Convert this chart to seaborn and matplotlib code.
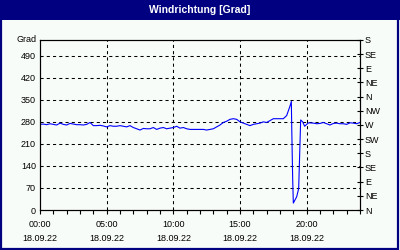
import matplotlib
matplotlib.use("Agg")
import matplotlib.pyplot as plt
from matplotlib.patches import Rectangle
import seaborn as sns
import pandas as pd

hours = [0.0, 0.25, 0.5, 0.75, 1.0, 1.25, 1.5, 1.75, 2.0, 2.25, 2.5, 2.75, 3.0, 3.25, 3.5, 3.75,
         4.0, 4.25, 4.5, 4.75, 5.0, 5.25, 5.5, 5.75, 6.0, 6.25, 6.5, 6.75, 7.0, 7.25, 7.5, 7.75,
         8.0, 8.25, 8.5, 8.75, 9.0, 9.25, 9.5, 9.75, 10.0, 10.25, 10.5, 10.75, 11.0, 11.25, 11.5,
         11.75, 12.0, 12.25, 12.5, 12.75, 13.0, 13.25, 13.5, 13.75, 14.0, 14.25, 14.5, 14.75, 15.0,
         15.25, 15.5, 15.75, 16.0, 16.25, 16.5, 16.75, 17.0, 17.25, 17.5, 17.75, 18.0, 18.25, 18.5,
         18.75, 18.85, 18.88, 18.95, 19.0, 19.25, 19.4, 19.55, 19.7, 19.85, 20.0, 20.15, 20.5,
         20.75, 21.0, 21.25, 21.5, 21.75, 22.0, 22.25, 22.5, 22.75, 23.0, 23.25, 23.5, 23.75, 24.0]
direction = [272, 273, 271, 274, 272, 270, 276, 272, 270, 275, 273, 271, 271, 270, 272, 278,
             268, 268, 269, 267, 264, 268, 266, 266, 268, 266, 264, 268, 262, 258, 254, 259,
             258, 258, 262, 256, 260, 262, 258, 260, 262, 266, 260, 262, 258, 256, 256,
             256, 256, 256, 254, 256, 258, 264, 270, 278, 282, 288, 290, 288, 280,
             276, 272, 268, 272, 274, 276, 280, 278, 284, 290, 290, 290, 290, 300,
             330, 345, 262, 100, 22, 42, 68, 286, 280, 266, 272, 277, 276,
             274, 275, 278, 274, 270, 275, 276, 274, 274, 272, 277, 276, 274, 278]

left_ticks = [0, 70, 140, 210, 280, 350, 420, 490]
right_ticks = [0, 45, 90, 135, 180, 225, 270, 315, 360, 405, 450, 495, 540]
right_labels = ["N", "NE", "E", "SE", "S", "SW", "W", "NW", "N", "NE", "E", "SE", "S"]
x_ticks = [0, 5, 10, 15, 20]
x_labels = ["00:00", "05:00", "10:00", "15:00", "20:00"]
date_label = "18.09.22"
title = "Windrichtung [Grad]"
unit = "Grad"

navy = "#000080"
bg = "#f8fcf8"
font = "Liberation Sans"
fs = 6.5

fig = plt.figure(figsize=(4, 2.5), dpi=100, facecolor=bg)
fig.patches.append(Rectangle((0, 0.92), 1, 0.08, transform=fig.transFigure,
                             facecolor=navy, edgecolor="none", zorder=0))
fig.patches.append(Rectangle((0.002, 0.003), 0.994, 0.994, transform=fig.transFigure,
                             facecolor="none", edgecolor=navy, linewidth=1.6, zorder=5))
fig.text(0.5, 0.96, title, ha="center", va="center", color="white",
         fontsize=7.5, fontweight="bold", family=font)

ax = fig.add_axes([0.1, 0.16, 0.8, 0.68])
ax.set_facecolor(bg)
df = pd.DataFrame({"h": hours, "deg": direction})
sns.lineplot(data=df, x="h", y="deg", ax=ax, color="#0000ff", linewidth=0.8, zorder=3)
ax.set_xlim(0, 24)
ax.set_ylim(0, 540)
ax.set_xlabel("")
ax.set_ylabel("")

for y in left_ticks[1:]:
    ax.axhline(y, color="black", linewidth=0.75, linestyle=(0, (3, 3)), zorder=1)
for x in x_ticks[1:]:
    ax.axvline(x, color="black", linewidth=0.75, linestyle=(0, (3, 3)), zorder=1)

ax.set_yticks(left_ticks)
ax.set_yticklabels([str(v) for v in left_ticks], family=font, fontsize=fs)
ax.tick_params(axis="y", length=0, pad=3)
ax.set_xticks(x_ticks)
ax.set_xticklabels([f"{l}\n{date_label}" for l in x_labels], family=font,
                   fontsize=fs, linespacing=1.75)
ax.set_xticks(list(range(0, 25)), minor=True)
ax.tick_params(axis="x", which="both", direction="out", length=3, width=0.8, pad=4)
for s in ax.spines.values():
    s.set_linewidth(0.8)
    s.set_color("black")

ax.text(-0.01, 1.0, unit, transform=ax.transAxes, ha="right", va="center",
        family=font, fontsize=fs)

ax2 = ax.twinx()
ax2.set_ylim(0, 540)
ax2.set_yticks(right_ticks)
ax2.set_yticklabels(right_labels, family=font, fontsize=fs)
ax2.tick_params(axis="y", direction="inout", length=5, width=0.8, pad=1)
for s in ax2.spines.values():
    s.set_linewidth(0.8)

fig.savefig("out.png", dpi=100, facecolor=bg)
